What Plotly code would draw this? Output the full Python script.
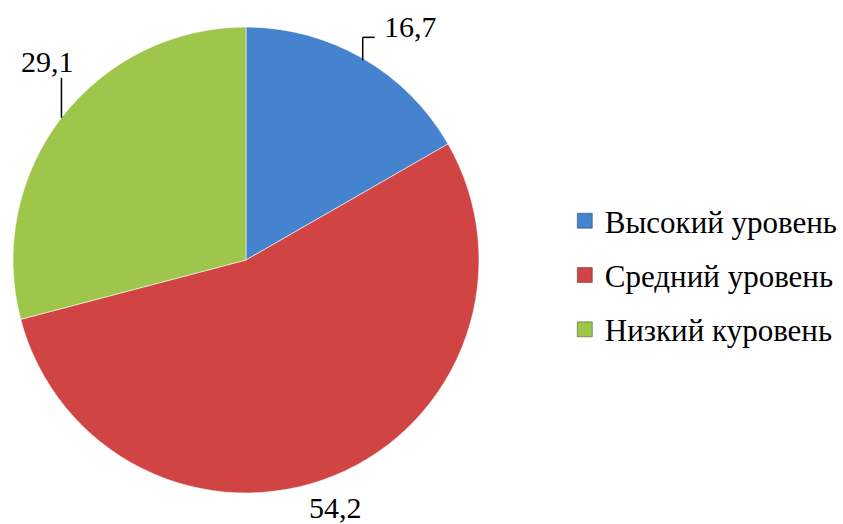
import math
import plotly.graph_objects as go

categories = ["Высокий уровень", "Средний уровень", "Низкий куровень"]
values = [16.7, 54.2, 29.1]
labels_text = ["16,7", "54,2", "29,1"]
colors = ["#4683CF", "#D04443", "#9DC64B"]

W, H = 843, 524
cx, cy, R = 246, 260, 233  # pixel centre / radius of pie
FONT = "Times New Roman, Liberation Serif, serif"

fig = go.Figure()
fig.add_trace(go.Pie(
    labels=categories, values=values, sort=False, direction="clockwise",
    rotation=0, textinfo="none", hoverinfo="label+value",
    marker=dict(colors=colors, line=dict(color="rgba(255,255,255,0.55)", width=1)),
    domain=dict(x=[(cx - R) / W, (cx + R) / W], y=[(H - cy - R) / H, (H - cy + R) / H]),
    showlegend=False,
))

# legend via dummy traces
for i, (c, col) in enumerate(zip(categories, colors)):
    fig.add_trace(go.Scatter(
        x=[None], y=[None], mode="markers", name=c, legendgroup=str(i),
        marker=dict(symbol="square", size=15, color=col,
                    line=dict(color="rgba(0,0,0,0.35)", width=1)),
    ))

def px2paper(x, y):
    return x / W, 1 - y / H

total = sum(values)
cum = 0
shapes = []
annotations = []
for i, v in enumerate(values):
    mid = (cum + v / 2) / total * 2 * math.pi
    cum += v
    ex = cx + R * math.sin(mid)
    ey = cy - R * math.cos(mid)
    if i == 0:
        # leader: up then right
        pts = [(ex, ey + 2), (ex, ey - 21), (ex + 12, ey - 21)]
        tx, ty, anchor = ex + 19, ey - 32, "left"
    elif i == 2:
        pts = [(ex, ey), (ex, ey - 40)]
        tx, ty, anchor = ex - 14, ey - 56, "center"
    else:
        pts = None
        tx, ty, anchor = ex + 1, ey + 32, "center"
    if pts:
        for (x0, y0), (x1, y1) in zip(pts[:-1], pts[1:]):
            a0 = px2paper(x0, y0)
            a1 = px2paper(x1, y1)
            shapes.append(dict(type="line", xref="paper", yref="paper",
                               x0=a0[0], y0=a0[1], x1=a1[0], y1=a1[1],
                               line=dict(color="black", width=1.5)))
    p = px2paper(tx, ty)
    annotations.append(dict(x=p[0], y=p[1], xref="paper", yref="paper",
                            text=labels_text[i], showarrow=False,
                            xanchor=anchor, yanchor="middle",
                            font=dict(family=FONT, size=30, color="black")))

fig.update_layout(
    width=W, height=H,
    margin=dict(l=0, r=0, t=0, b=0),
    paper_bgcolor="white", plot_bgcolor="white",
    font=dict(family=FONT),
    xaxis=dict(visible=False, domain=[0.99, 1]), yaxis=dict(visible=False, domain=[0.99, 1]),
    legend=dict(x=0.67, y=0.475, xanchor="left", yanchor="middle",
                font=dict(family=FONT, size=31, color="black"),
                tracegroupgap=11, traceorder="grouped", itemclick=False),
    shapes=shapes, annotations=annotations,
)

fig.write_html("out.html", config={"displayModeBar": False},
               post_script="document.body.style.margin='0px';document.body.style.overflow='hidden';")
